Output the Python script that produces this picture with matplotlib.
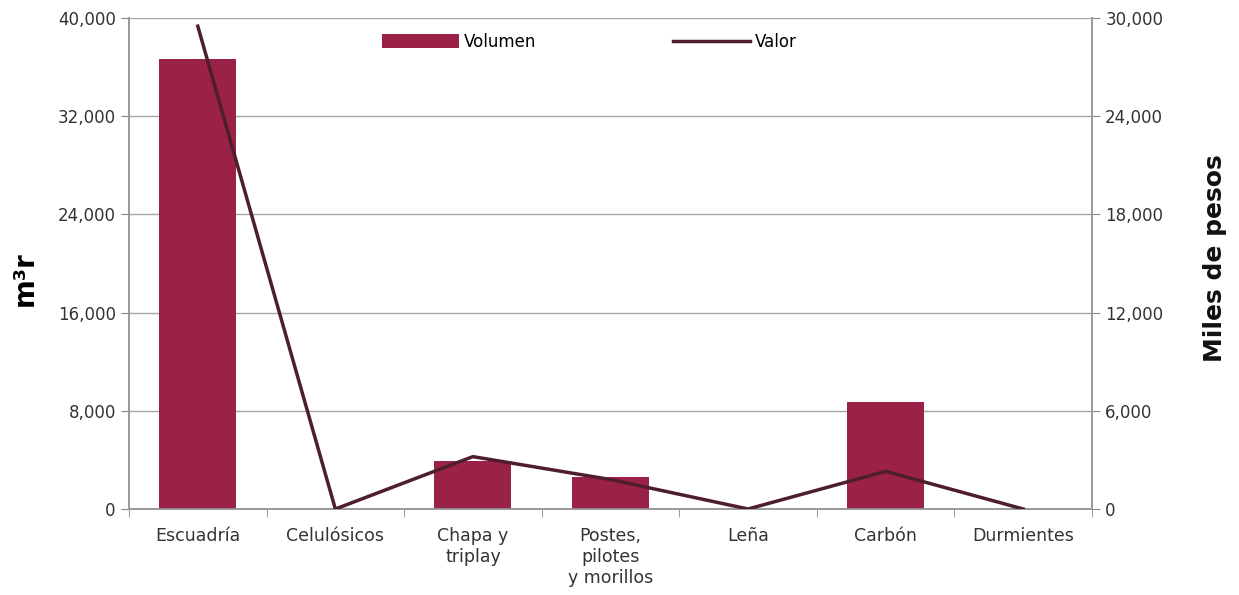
import matplotlib.pyplot as plt
from matplotlib.ticker import FuncFormatter, FixedLocator

plt.rcParams['font.family'] = ['DejaVu Sans']

categories = ["Escuadría", "Celulósicos", "Chapa y\ntriplay", "Postes,\npilotes\ny morillos",
              "Leña", "Carbón", "Durmientes"]
volumen = [36700, 0, 3900, 2600, 0, 8700, 0]
valor = [29500, 0, 3200, 1800, 0, 2300, 0]

BAR_COLOR = '#9B2247'
LINE_COLOR = '#4E1E2C'
GRID_COLOR = '#A6A6A6'
TEXT_COLOR = '#333333'

fig = plt.figure(figsize=(12.39, 5.95), dpi=100)
ax = fig.add_axes([129/1239, 86/595, 963/1239, 491/595])
ax2 = ax.twinx()

x = list(range(len(categories)))
bars = ax.bar(x, volumen, width=0.56, color=BAR_COLOR, label='Volumen', zorder=3)
line, = ax2.plot(x, valor, color=LINE_COLOR, lw=2.5, label='Valor', zorder=4)
ax.set_zorder(ax2.get_zorder() - 1)
ax.patch.set_visible(False)
ax2.patch.set_visible(False)

ax.set_xlim(-0.5, len(categories) - 0.5)
ax.set_ylim(0, 40000)
ax2.set_ylim(0, 30000)
ax.set_yticks(range(0, 40001, 8000))
ax2.set_yticks(range(0, 30001, 6000))
fmt = FuncFormatter(lambda v, p: f'{int(v):,}')
ax.yaxis.set_major_formatter(fmt)
ax2.yaxis.set_major_formatter(fmt)

ax.grid(axis='y', color=GRID_COLOR, lw=1, zorder=0)
ax.set_axisbelow(True)

ax.set_xticks(x)
ax.set_xticklabels(categories, fontsize=12.5, color=TEXT_COLOR, linespacing=1.2)
ax.tick_params(axis='x', which='major', length=0, pad=13)
ax.xaxis.set_minor_locator(FixedLocator([i - 0.5 for i in range(len(categories) + 1)]))
ax.tick_params(axis='x', which='minor', length=6, color='#888888', direction='out')
ax.tick_params(axis='y', labelsize=12, labelcolor=TEXT_COLOR, length=6, color='#888888')
ax2.tick_params(axis='y', labelsize=12, labelcolor=TEXT_COLOR, length=6, color='#888888')

for a in (ax, ax2):
    a.spines['top'].set_visible(False)
    for s in ('left', 'right', 'bottom'):
        a.spines[s].set_color('#999999')
        a.spines[s].set_linewidth(1.2)

ax.set_ylabel('m³r', fontsize=20, fontweight='bold')
ax.yaxis.set_label_coords(-0.094, 0.47)
ax2.set_ylabel('Miles de pesos', fontsize=18, fontweight='semibold', color='#111111')
ax2.yaxis.set_label_coords(1.115, 0.51)

ax.legend([bars, line], ['Volumen', 'Valor'], loc='upper center', bbox_to_anchor=(0.478, 1.0),
          ncol=2, frameon=False, fontsize=12, handlelength=4.6, handleheight=0.9,
          columnspacing=8.2, handletextpad=0.3)

fig.savefig('out.png', dpi=100)
